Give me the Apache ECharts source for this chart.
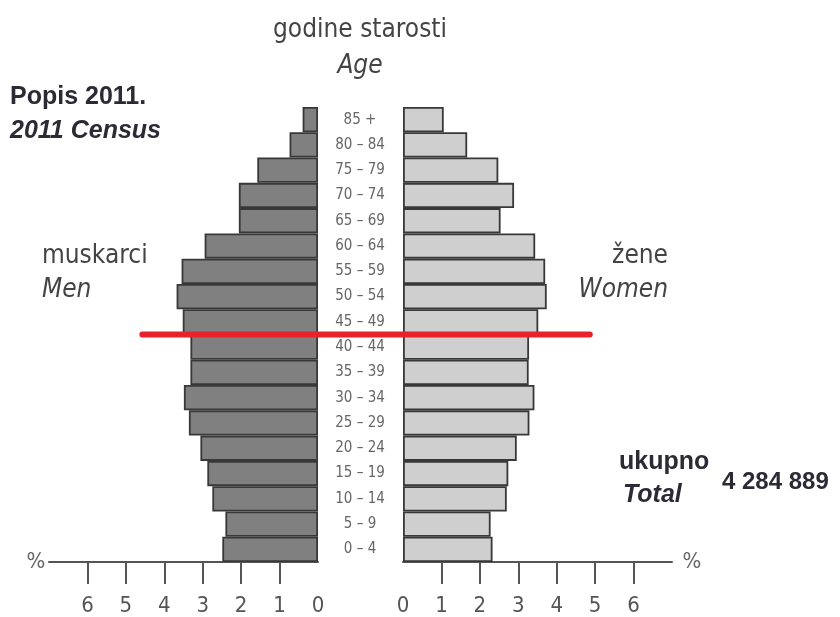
<!DOCTYPE html>
<html>
<head>
<meta charset="utf-8">
<script src="https://cdn.jsdelivr.net/npm/echarts@6/dist/echarts.min.js"></script>
<style>
  html, body { margin: 0; background: #fff; }
  #chart { width: 840px; height: 617px; }
</style>
</head>
<body>
<div id="chart"></div>
<script>
// age groups, bottom to top
const ageGroups = ['0 – 4', '5 – 9', '10 – 14', '15 – 19', '20 – 24', '25 – 29', '30 – 34', '35 – 39',
  '40 – 44', '45 – 49', '50 – 54', '55 – 59', '60 – 64', '65 – 69', '70 – 74', '75 – 79', '80 – 84', '85 +'];
// share of total population, %
const men = [2.49, 2.41, 2.75, 2.88, 3.06, 3.36, 3.49, 3.32, 3.32, 3.52, 3.68, 3.55, 2.95, 2.06, 2.06, 1.58, 0.74, 0.40];
const women = [2.33, 2.28, 2.70, 2.74, 2.96, 3.29, 3.42, 3.27, 3.28, 3.52, 3.74, 3.70, 3.44, 2.54, 2.89, 2.48, 1.67, 1.06];
const tickValues = [1, 2, 3, 4, 5, 6];
const labelValues = [0, 1, 2, 3, 4, 5, 6];
// red marker between these two groups, spanning to these % values
const markerBetween = ['40 – 44', '45 – 49'];
const markerMen = 4.57;
const markerWomen = 4.86;

const narrow = '"Liberation Sans Narrow", "DejaVu Sans Condensed", sans-serif';
const bold = '"Liberation Sans", Arial, sans-serif';

const chart = echarts.init(document.getElementById('chart'));

const xAxisBase = {
  type: 'value',
  min: 0,
  max: 7,
  interval: 1,
  splitLine: { show: false },
  axisLine: { show: true, lineStyle: { color: '#555', width: 2 } },
  axisTick: { show: true, customValues: tickValues, length: 22, lineStyle: { color: '#555', width: 2 } },
  axisLabel: { customValues: labelValues, margin: 33, fontSize: 22, fontFamily: narrow, color: '#555' }
};

const barStyle = (fill) => ({ color: fill, borderColor: '#383838', borderWidth: 1.8 });

const option = {
  animation: false,
  grid: [
    { left: 49, right: 522, top: 107, bottom: 54 },
    { left: 403, right: 168, top: 107, bottom: 54 }
  ],
  xAxis: [
    Object.assign({ gridIndex: 0, inverse: true }, xAxisBase),
    Object.assign({ gridIndex: 1 }, xAxisBase)
  ],
  yAxis: [
    { type: 'category', gridIndex: 0, data: ageGroups, show: false },
    {
      type: 'category', gridIndex: 1, data: ageGroups,
      axisLine: { show: false }, axisTick: { show: false },
      axisLabel: { margin: 43, align: 'center', fontSize: 15, fontFamily: narrow, color: '#666' }
    }
  ],
  series: [
    {
      name: 'Men', type: 'bar', xAxisIndex: 0, yAxisIndex: 0, data: men,
      barCategoryGap: '0%', itemStyle: barStyle('#808080')
    },
    {
      name: 'Women', type: 'bar', xAxisIndex: 1, yAxisIndex: 1, data: women,
      barCategoryGap: '0%', itemStyle: barStyle('#cfcfcf')
    }
  ]
};

chart.setOption(option);

const txt = (x, y, text, opts) => ({
  type: 'text', x, y, silent: true,
  style: Object.assign({
    text, fill: '#444', fontSize: 26, fontFamily: narrow,
    align: 'left', verticalAlign: 'middle'
  }, opts || {})
});
const boldTxt = { fontFamily: bold, fontWeight: 'bold', fontSize: 25, fill: '#2b2b36' };

// red marker line between the two age groups
const yMid = (chart.convertToPixel({ yAxisIndex: 1 }, markerBetween[0]) +
  chart.convertToPixel({ yAxisIndex: 1 }, markerBetween[1])) / 2;
const xLeft = chart.convertToPixel({ xAxisIndex: 0 }, markerMen);
const xRight = chart.convertToPixel({ xAxisIndex: 1 }, markerWomen);

chart.setOption({
  graphic: [
    txt(360, 30, 'godine starosti', { align: 'center' }),
    txt(360, 66, 'Age', { align: 'center', fontStyle: 'italic' }),
    txt(10, 97, 'Popis 2011.', boldTxt),
    txt(10, 131, '2011 Census', Object.assign({}, boldTxt, { fontStyle: 'italic' })),
    txt(42, 256, 'muskarci'),
    txt(42, 290, 'Men', { fontStyle: 'italic' }),
    txt(668, 256, 'žene', { align: 'right' }),
    txt(668, 290, 'Women', { align: 'right', fontStyle: 'italic' }),
    txt(619, 462, 'ukupno', boldTxt),
    txt(623, 495, 'Total', Object.assign({}, boldTxt, { fontStyle: 'italic' })),
    txt(722, 482, '4 284 889', Object.assign({}, boldTxt, { fontSize: 24 })),
    txt(36, 562, '%', { align: 'center', fontSize: 22, fill: '#666' }),
    txt(692, 562, '%', { align: 'center', fontSize: 22, fill: '#666' }),
    {
      type: 'line', silent: true, z: 100,
      shape: { x1: xLeft, y1: yMid, x2: xRight, y2: yMid },
      style: { stroke: '#e8222a', lineWidth: 6, lineCap: 'round' }
    }
  ]
});
</script>
</body>
</html>
